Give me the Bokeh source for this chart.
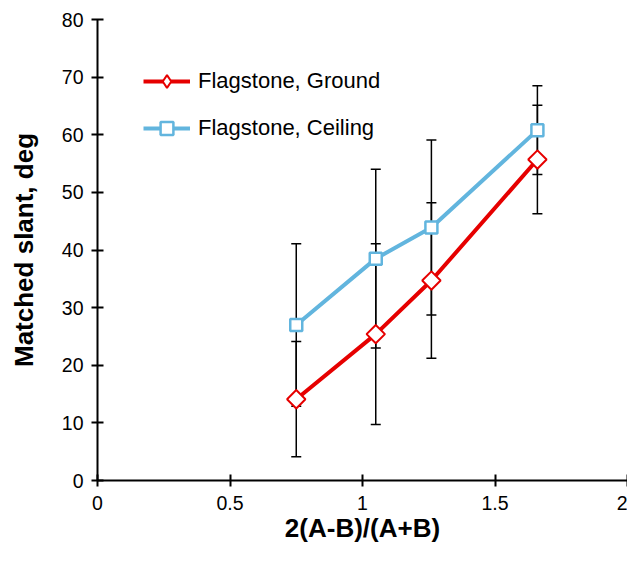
from bokeh.plotting import figure
from bokeh.models import ColumnDataSource, Whisker, TeeHead, Legend, LegendItem, Range1d, FixedTicker
from bokeh.embed import file_html
from bokeh.resources import INLINE
import math

# data
x_vals = [0.75, 1.05, 1.26, 1.66]
ground = [14.1, 25.4, 34.7, 55.7]
ground_err = [10.0, 15.7, 13.5, 9.4]
ceiling = [27.0, 38.5, 43.9, 60.8]
ceiling_err = [14.1, 15.5, 15.2, 7.7]
x_ticks = [0, 0.5, 1, 1.5, 2]
x_tick_labels = {0: "0", 0.5: "0.5", 1: "1", 1.5: "1.5", 2: "2"}
y_ticks = [0, 10, 20, 30, 40, 50, 60, 70, 80]

RED = "#e60000"
BLUE = "#62b5de"
FONT = "Liberation Sans"

p = figure(width=627, height=545, output_backend="svg", toolbar_location=None,
           x_range=Range1d(0, 2), y_range=Range1d(0, 80),
           min_border_left=97, min_border_right=0, min_border_top=19, min_border_bottom=62)
p.outline_line_color = None
p.grid.grid_line_color = None
p.background_fill_color = "white"

for ax in (p.xaxis[0], p.yaxis[0]):
    ax.axis_line_width = 2
    ax.axis_line_color = "black"
    ax.major_tick_line_width = 2
    ax.major_tick_line_color = "black"
    ax.major_tick_in = 6
    ax.major_tick_out = 6
    ax.minor_tick_line_color = None
    ax.major_label_text_font = FONT
    ax.major_label_text_font_size = "19.5px"
    ax.major_label_text_color = "black"
    ax.axis_label_text_font = FONT
    ax.axis_label_text_font_style = "bold"
    ax.axis_label_text_font_size = "26px"
    ax.axis_label_text_color = "black"

p.xaxis.ticker = FixedTicker(ticks=x_ticks)
p.xaxis.major_label_overrides = x_tick_labels
p.yaxis.ticker = FixedTicker(ticks=y_ticks)
p.xaxis.axis_label = "2(A-B)/(A+B)"
p.yaxis.axis_label = "Matched slant, deg"
p.xaxis.major_label_standoff = 9
p.xaxis.axis_label_standoff = 0
p.yaxis.major_label_standoff = 8
p.yaxis.axis_label_standoff = 20

g_src = ColumnDataSource(dict(x=x_vals, y=ground,
                              lo=[v - e for v, e in zip(ground, ground_err)],
                              hi=[v + e for v, e in zip(ground, ground_err)]))
c_src = ColumnDataSource(dict(x=x_vals, y=ceiling,
                              lo=[v - e for v, e in zip(ceiling, ceiling_err)],
                              hi=[v + e for v, e in zip(ceiling, ceiling_err)]))

for src in (g_src, c_src):
    w = Whisker(source=src, base="x", lower="lo", upper="hi", dimension="height",
                line_color="black", line_width=1.5,
                upper_head=TeeHead(size=10, line_color="black", line_width=1.5),
                lower_head=TeeHead(size=10, line_color="black", line_width=1.5))
    p.add_layout(w)

gl = p.line("x", "y", source=g_src, line_color=RED, line_width=4)
cl = p.line("x", "y", source=c_src, line_color=BLUE, line_width=4)
gm = p.scatter("x", "y", source=g_src, marker="square", size=13, angle=math.pi / 4,
               fill_color="white", line_color=RED, line_width=2)
cm = p.scatter("x", "y", source=c_src, marker="square", size=12,
               fill_color="white", line_color=BLUE, line_width=2.5)
# diamond shape for the legend entry only
gm_leg = p.scatter("x", "y", source=g_src, marker="diamond", size=13,
                   fill_color="white", line_color=RED, line_width=2, visible=False)

legend = Legend(items=[LegendItem(label="Flagstone, Ground", renderers=[gl, gm_leg]),
                       LegendItem(label="Flagstone, Ceiling", renderers=[cl, cm])],
                location=(46, 336), orientation="vertical",
                glyph_width=47, glyph_height=32, label_height=32, spacing=15,
                label_standoff=8, padding=0, margin=0,
                border_line_color=None, background_fill_alpha=0,
                label_text_font=FONT, label_text_font_size="22px", label_text_color="black")
p.add_layout(legend)

open("out.html", "w").write(file_html(p, INLINE))
